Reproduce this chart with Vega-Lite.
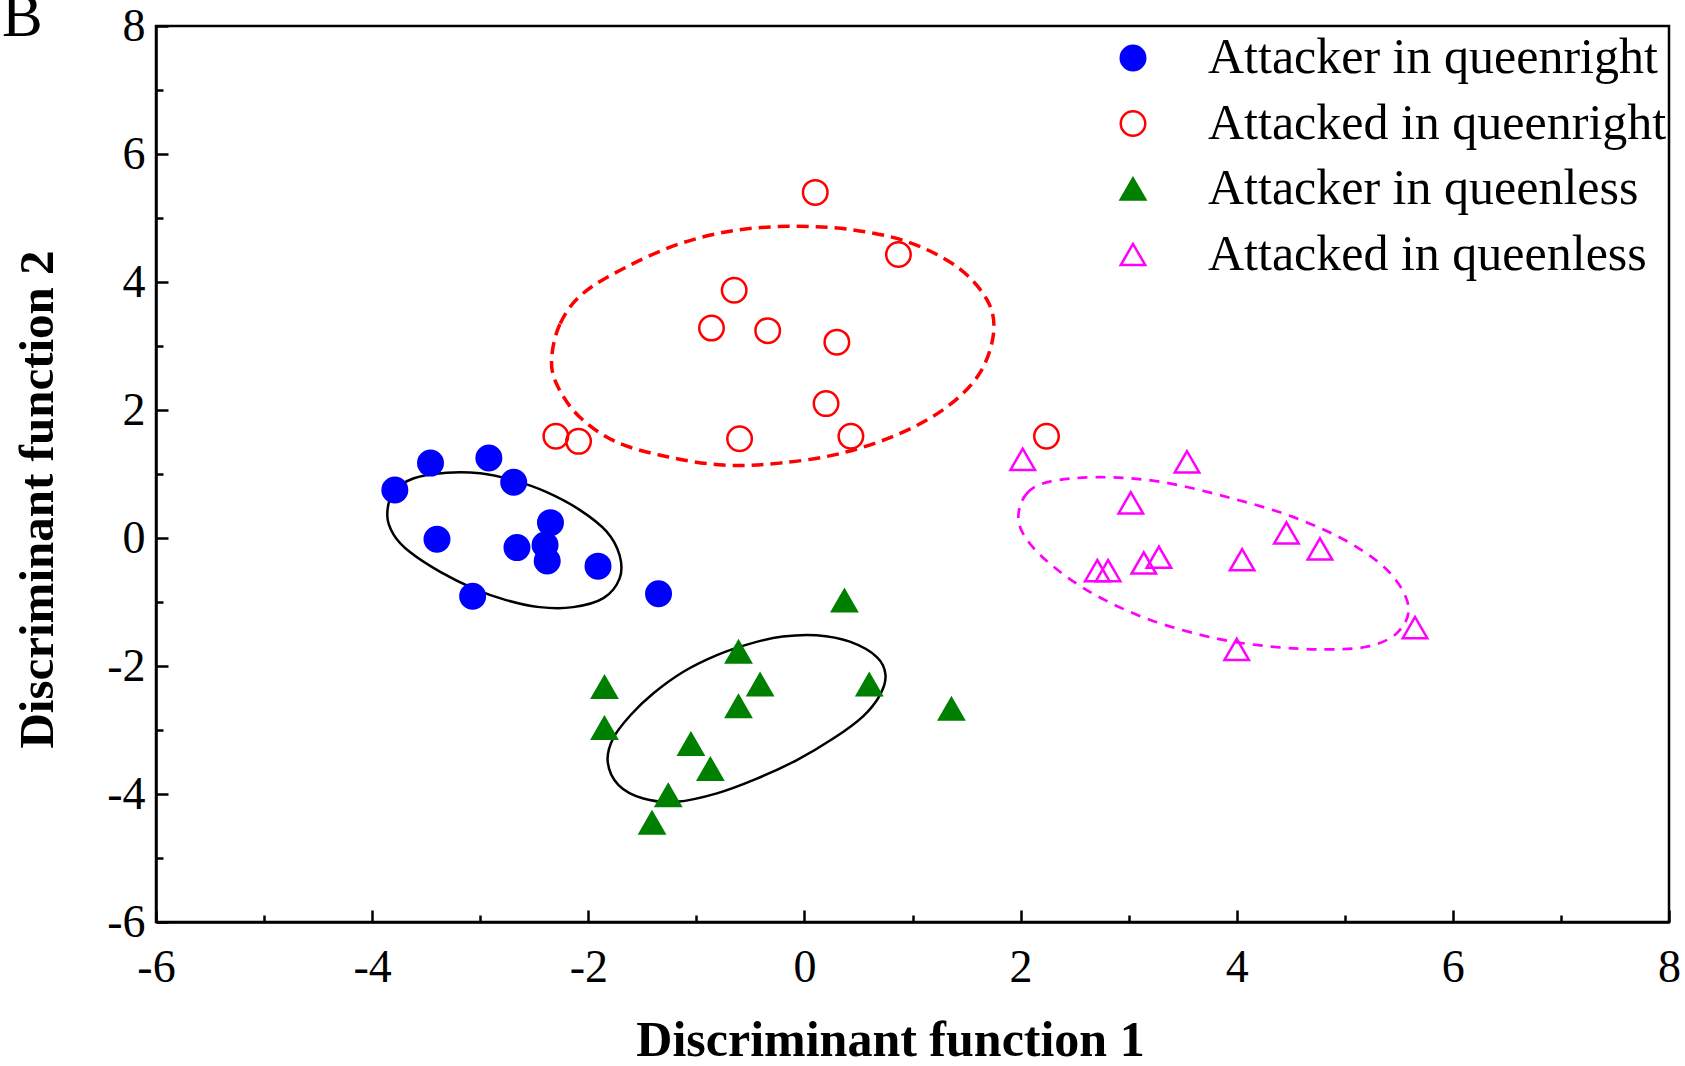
{
  "$schema": "https://vega.github.io/schema/vega-lite/v6.json",
  "width": 1513,
  "height": 896,
  "autosize": {"type": "none"},
  "padding": {"left": 156, "top": 26, "right": 16, "bottom": 144},
  "background": "white",
  "title": {"text": "B", "anchor": "start", "frame": "group", "font": "Liberation Serif", "fontSize": 61, "fontWeight": "normal", "color": "black", "baseline": "alphabetic", "offset": 0, "dx": -154, "dy": 94},
  "config": {
    "view": {"stroke": "black", "strokeWidth": 2.5},
    "font": "Liberation Serif",
    "legend": {"orient": "none", "legendX": 952, "legendY": 7, "padding": 0, "labelFont": "Liberation Serif", "labelFontSize": 50, "labelColor": "black", "labelOffset": 50, "rowPadding": 15.5, "symbolStrokeWidth": 2.5, "labelLimit": 1000, "direction": "vertical"}
  },
  "datasets": {
    "pts": [
      {"g": "Attacker in queenright", "x": -3.79, "y": 0.75},
      {"g": "Attacker in queenright", "x": -3.46, "y": 1.17},
      {"g": "Attacker in queenright", "x": -2.92, "y": 1.25},
      {"g": "Attacker in queenright", "x": -2.69, "y": 0.87},
      {"g": "Attacker in queenright", "x": -3.40, "y": -0.02},
      {"g": "Attacker in queenright", "x": -2.35, "y": 0.24},
      {"g": "Attacker in queenright", "x": -2.40, "y": -0.11},
      {"g": "Attacker in queenright", "x": -2.66, "y": -0.15},
      {"g": "Attacker in queenright", "x": -2.38, "y": -0.36},
      {"g": "Attacker in queenright", "x": -1.91, "y": -0.44},
      {"g": "Attacker in queenright", "x": -3.07, "y": -0.91},
      {"g": "Attacker in queenright", "x": -1.35, "y": -0.87},
      {"g": "Attacked in queenright", "x": 0.10, "y": 5.40},
      {"g": "Attacked in queenright", "x": 0.87, "y": 4.43},
      {"g": "Attacked in queenright", "x": -0.65, "y": 3.87},
      {"g": "Attacked in queenright", "x": -0.86, "y": 3.28},
      {"g": "Attacked in queenright", "x": -0.34, "y": 3.24},
      {"g": "Attacked in queenright", "x": 0.30, "y": 3.06},
      {"g": "Attacked in queenright", "x": 0.20, "y": 2.10},
      {"g": "Attacked in queenright", "x": -2.30, "y": 1.59},
      {"g": "Attacked in queenright", "x": -2.09, "y": 1.51},
      {"g": "Attacked in queenright", "x": -0.60, "y": 1.55},
      {"g": "Attacked in queenright", "x": 0.43, "y": 1.59},
      {"g": "Attacked in queenright", "x": 2.24, "y": 1.59},
      {"g": "Attacker in queenless", "x": 0.37, "y": -0.98},
      {"g": "Attacker in queenless", "x": -0.61, "y": -1.78},
      {"g": "Attacker in queenless", "x": -0.41, "y": -2.29},
      {"g": "Attacker in queenless", "x": 0.60, "y": -2.29},
      {"g": "Attacker in queenless", "x": -1.85, "y": -2.33},
      {"g": "Attacker in queenless", "x": -0.61, "y": -2.63},
      {"g": "Attacker in queenless", "x": -1.85, "y": -2.97},
      {"g": "Attacker in queenless", "x": 1.36, "y": -2.67},
      {"g": "Attacker in queenless", "x": -1.05, "y": -3.22},
      {"g": "Attacker in queenless", "x": -0.87, "y": -3.61},
      {"g": "Attacker in queenless", "x": -1.26, "y": -4.02},
      {"g": "Attacker in queenless", "x": -1.41, "y": -4.45},
      {"g": "Attacked in queenless", "x": 2.02, "y": 1.23},
      {"g": "Attacked in queenless", "x": 3.54, "y": 1.19},
      {"g": "Attacked in queenless", "x": 3.02, "y": 0.55},
      {"g": "Attacked in queenless", "x": 4.46, "y": 0.08},
      {"g": "Attacked in queenless", "x": 4.77, "y": -0.17},
      {"g": "Attacked in queenless", "x": 4.05, "y": -0.34},
      {"g": "Attacked in queenless", "x": 3.28, "y": -0.30},
      {"g": "Attacked in queenless", "x": 3.14, "y": -0.39},
      {"g": "Attacked in queenless", "x": 2.81, "y": -0.51},
      {"g": "Attacked in queenless", "x": 2.71, "y": -0.51},
      {"g": "Attacked in queenless", "x": 5.65, "y": -1.40},
      {"g": "Attacked in queenless", "x": 4.00, "y": -1.74}
    ],
    "ellBlue": [
      {"i": 1, "x": -3.86, "y": 0.36},
      {"i": 2, "x": -3.80, "y": 0.72},
      {"i": 3, "x": -3.62, "y": 0.93},
      {"i": 4, "x": -3.31, "y": 1.02},
      {"i": 5, "x": -3.00, "y": 1.01},
      {"i": 6, "x": -2.69, "y": 0.90},
      {"i": 7, "x": -2.39, "y": 0.72},
      {"i": 8, "x": -2.08, "y": 0.44},
      {"i": 9, "x": -1.83, "y": 0.10},
      {"i": 10, "x": -1.71, "y": -0.27},
      {"i": 11, "x": -1.71, "y": -0.63},
      {"i": 12, "x": -1.86, "y": -0.94},
      {"i": 13, "x": -2.14, "y": -1.08},
      {"i": 14, "x": -2.45, "y": -1.08},
      {"i": 15, "x": -2.76, "y": -0.97},
      {"i": 16, "x": -3.06, "y": -0.79},
      {"i": 17, "x": -3.37, "y": -0.53},
      {"i": 18, "x": -3.65, "y": -0.22},
      {"i": 19, "x": -3.80, "y": 0.05}
    ],
    "ellGreen": [
      {"i": 1, "x": -1.82, "y": -3.50},
      {"i": 2, "x": -1.77, "y": -3.13},
      {"i": 3, "x": -1.61, "y": -2.77},
      {"i": 4, "x": -1.40, "y": -2.43},
      {"i": 5, "x": -1.12, "y": -2.09},
      {"i": 6, "x": -0.81, "y": -1.83},
      {"i": 7, "x": -0.50, "y": -1.65},
      {"i": 8, "x": -0.20, "y": -1.54},
      {"i": 9, "x": 0.11, "y": -1.52},
      {"i": 10, "x": 0.42, "y": -1.62},
      {"i": 11, "x": 0.67, "y": -1.86},
      {"i": 12, "x": 0.75, "y": -2.14},
      {"i": 13, "x": 0.70, "y": -2.45},
      {"i": 14, "x": 0.54, "y": -2.79},
      {"i": 15, "x": 0.27, "y": -3.13},
      {"i": 16, "x": -0.07, "y": -3.47},
      {"i": 17, "x": -0.44, "y": -3.76},
      {"i": 18, "x": -0.81, "y": -3.99},
      {"i": 19, "x": -1.18, "y": -4.12},
      {"i": 20, "x": -1.49, "y": -4.07},
      {"i": 21, "x": -1.72, "y": -3.86}
    ],
    "ellRed": [
      {"i": 1, "x": -2.34, "y": 2.78},
      {"i": 2, "x": -2.26, "y": 3.35},
      {"i": 3, "x": -2.05, "y": 3.82},
      {"i": 4, "x": -1.64, "y": 4.24},
      {"i": 5, "x": -1.15, "y": 4.60},
      {"i": 6, "x": -0.63, "y": 4.81},
      {"i": 7, "x": -0.10, "y": 4.87},
      {"i": 8, "x": 0.42, "y": 4.82},
      {"i": 9, "x": 0.95, "y": 4.63},
      {"i": 10, "x": 1.41, "y": 4.24},
      {"i": 11, "x": 1.69, "y": 3.72},
      {"i": 12, "x": 1.75, "y": 3.20},
      {"i": 13, "x": 1.62, "y": 2.57},
      {"i": 14, "x": 1.32, "y": 2.05},
      {"i": 15, "x": 0.88, "y": 1.63},
      {"i": 16, "x": 0.33, "y": 1.32},
      {"i": 17, "x": -0.23, "y": 1.17},
      {"i": 18, "x": -0.75, "y": 1.14},
      {"i": 19, "x": -1.27, "y": 1.27},
      {"i": 20, "x": -1.74, "y": 1.50},
      {"i": 21, "x": -2.08, "y": 1.89},
      {"i": 22, "x": -2.28, "y": 2.36}
    ],
    "ellMagenta": [
      {"i": 1, "x": 1.98, "y": 0.36},
      {"i": 2, "x": 2.06, "y": 0.70},
      {"i": 3, "x": 2.27, "y": 0.88},
      {"i": 4, "x": 2.73, "y": 0.95},
      {"i": 5, "x": 3.29, "y": 0.88},
      {"i": 6, "x": 3.91, "y": 0.64},
      {"i": 7, "x": 4.52, "y": 0.33},
      {"i": 8, "x": 5.05, "y": -0.08},
      {"i": 9, "x": 5.42, "y": -0.55},
      {"i": 10, "x": 5.59, "y": -1.08},
      {"i": 11, "x": 5.48, "y": -1.49},
      {"i": 12, "x": 5.20, "y": -1.70},
      {"i": 13, "x": 4.80, "y": -1.74},
      {"i": 14, "x": 4.34, "y": -1.70},
      {"i": 15, "x": 3.81, "y": -1.57},
      {"i": 16, "x": 3.20, "y": -1.28},
      {"i": 17, "x": 2.67, "y": -0.87},
      {"i": 18, "x": 2.27, "y": -0.40},
      {"i": 19, "x": 2.04, "y": 0.02}
    ]
  },
  "layer": [
    {
      "data": {"name": "ellBlue"},
      "mark": {"type": "line", "interpolate": "cardinal-closed", "color": "black", "strokeWidth": 2.5},
      "encoding": {
        "x": {"field": "x", "type": "quantitative", "scale": {"domain": [-6, 8], "nice": false, "zero": false},
              "axis": {"orient": "bottom", "values": [-5, -3, -1, 1, 3, 5, 7], "labels": false, "domain": false, "grid": false, "tickSize": -7, "tickWidth": 2.5, "tickColor": "black", "title": null}},
        "y": {"field": "y", "type": "quantitative", "scale": {"domain": [-6, 8], "nice": false, "zero": false},
              "axis": {"orient": "left", "values": [-5, -3, -1, 1, 3, 5, 7], "labels": false, "domain": false, "grid": false, "tickSize": -7, "tickWidth": 2.5, "tickColor": "black", "title": null}},
        "order": {"field": "i", "type": "quantitative"}
      }
    },
    {
      "data": {"name": "ellGreen"},
      "mark": {"type": "line", "interpolate": "cardinal-closed", "color": "black", "strokeWidth": 2.5},
      "encoding": {
        "x": {"field": "x", "type": "quantitative", "scale": {"domain": [-6, 8], "nice": false, "zero": false}, "axis": null},
        "y": {"field": "y", "type": "quantitative", "scale": {"domain": [-6, 8], "nice": false, "zero": false}, "axis": null},
        "order": {"field": "i", "type": "quantitative"}
      }
    },
    {
      "data": {"name": "ellRed"},
      "mark": {"type": "line", "interpolate": "cardinal-closed", "color": "#ff0000", "strokeWidth": 3.5, "strokeDash": [12, 7]},
      "encoding": {
        "x": {"field": "x", "type": "quantitative", "scale": {"domain": [-6, 8], "nice": false, "zero": false}, "axis": null},
        "y": {"field": "y", "type": "quantitative", "scale": {"domain": [-6, 8], "nice": false, "zero": false}, "axis": null},
        "order": {"field": "i", "type": "quantitative"}
      }
    },
    {
      "data": {"name": "ellMagenta"},
      "mark": {"type": "line", "interpolate": "cardinal-closed", "color": "#ff00ff", "strokeWidth": 2.7, "strokeDash": [10, 8]},
      "encoding": {
        "x": {"field": "x", "type": "quantitative", "scale": {"domain": [-6, 8], "nice": false, "zero": false}, "axis": null},
        "y": {"field": "y", "type": "quantitative", "scale": {"domain": [-6, 8], "nice": false, "zero": false}, "axis": null},
        "order": {"field": "i", "type": "quantitative"}
      }
    },
    {
      "data": {"name": "pts"},
      "mark": {"type": "point", "strokeWidth": 2.5, "opacity": 1},
      "encoding": {
        "x": {"field": "x", "type": "quantitative", "scale": {"domain": [-6, 8], "nice": false, "zero": false},
              "axis": {"orient": "bottom", "values": [-6, -4, -2, 0, 2, 4, 6, 8], "labelExpr": "datum.value < 0 ? '-' + abs(datum.value) : '' + datum.value", "grid": false, "domainColor": "black", "domainWidth": 2.5, "tickColor": "black", "tickWidth": 2.5, "tickSize": -12, "labelFont": "Liberation Serif", "labelFontSize": 46, "labelColor": "black", "labelPadding": 35, "labelFlush": false, "labelOverlap": false, "title": "Discriminant function 1", "titleFont": "Liberation Serif", "titleFontSize": 50, "titleFontWeight": "bold", "titleColor": "black", "titleX": 734, "titleY": 133, "titleBaseline": "alphabetic"}},
        "y": {"field": "y", "type": "quantitative", "scale": {"domain": [-6, 8], "nice": false, "zero": false},
              "axis": {"orient": "left", "values": [-6, -4, -2, 0, 2, 4, 6, 8], "labelExpr": "datum.value < 0 ? '-' + abs(datum.value) : '' + datum.value", "grid": false, "domainColor": "black", "domainWidth": 2.5, "tickColor": "black", "tickWidth": 2.5, "tickSize": -12, "labelFont": "Liberation Serif", "labelFontSize": 46, "labelColor": "black", "labelPadding": 23, "labelFlush": false, "labelOverlap": false, "title": "Discriminant function 2", "titleFont": "Liberation Serif", "titleFontSize": 49, "titleFontWeight": "bold", "titleColor": "black", "titleX": -104, "titleY": 473, "titleBaseline": "alphabetic"}},
        "shape": {"field": "g", "type": "nominal", "scale": {"domain": ["Attacker in queenright", "Attacked in queenright", "Attacker in queenless", "Attacked in queenless"], "range": ["circle", "circle", "triangle-up", "triangle-up"]}, "legend": {"title": null}},
        "fill": {"field": "g", "type": "nominal", "scale": {"domain": ["Attacker in queenright", "Attacked in queenright", "Attacker in queenless", "Attacked in queenless"], "range": ["#0000ff", "transparent", "#008000", "transparent"]}, "legend": {"title": null}},
        "stroke": {"field": "g", "type": "nominal", "scale": {"domain": ["Attacker in queenright", "Attacked in queenright", "Attacker in queenless", "Attacked in queenless"], "range": ["#0000ff", "#ff0000", "#008000", "#ff00ff"]}, "legend": {"title": null}},
        "size": {"field": "g", "type": "nominal", "scale": {"domain": ["Attacker in queenright", "Attacked in queenright", "Attacker in queenless", "Attacked in queenless"], "range": [600, 600, 500, 460]}, "legend": {"title": null}}
      }
    }
  ],
  "resolve": {"axis": {"x": "independent", "y": "independent"}}
}
